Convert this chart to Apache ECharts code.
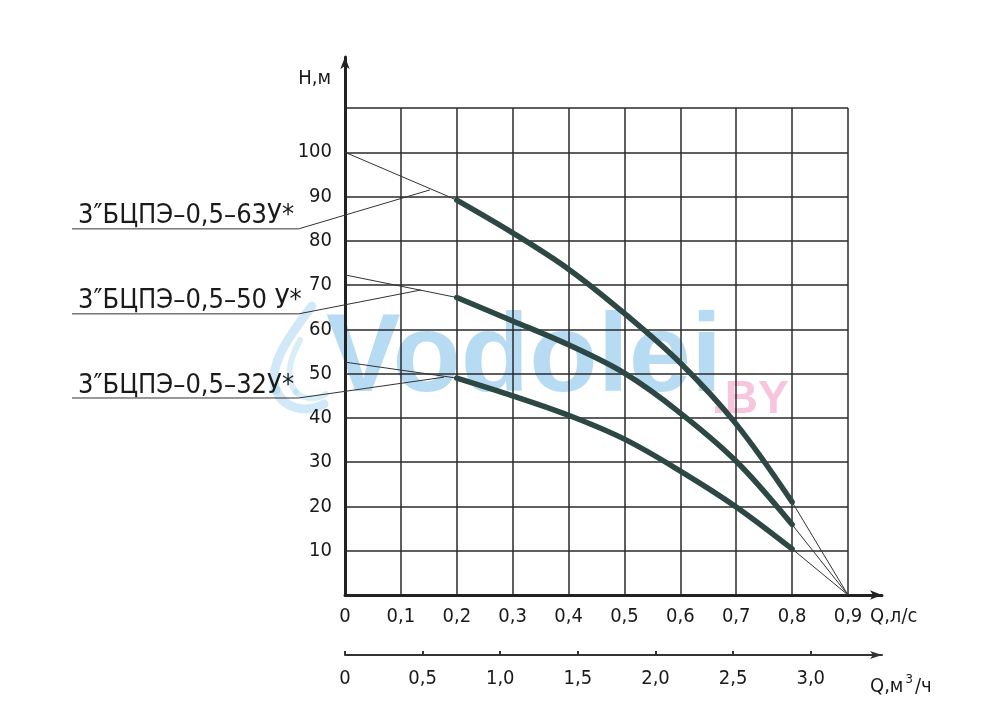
<!DOCTYPE html>
<html>
<head>
<meta charset="utf-8">
<script src="https://cdn.jsdelivr.net/npm/echarts@6/dist/echarts.min.js"></script>
<style>
html,body{margin:0;padding:0;background:#fff;}
#chart{width:1000px;height:727px;}
</style>
</head>
<body>
<div id="chart"></div>
<script>
// ---- data ----
const qPoints = [0.2, 0.3, 0.4, 0.5, 0.6, 0.7, 0.8];          // Q, l/s
const h63 = [89.2, 81.8, 73.6, 63.6, 52.4, 38.6, 21.0];       // H, m
const h50 = [67.2, 61.9, 56.5, 50.1, 41.1, 30.2, 15.9];
const h32 = [49.0, 45.0, 40.6, 35.2, 28.0, 19.9, 10.4];
const shutoffH = [100, 72.3, 52.6];      // H at Q = 0
const zeroHeadQ = 0.9;                   // all curves end at Q = 0.9, H = 0
const pumpNames = ['3″БЦПЭ–0,5–63У*', '3″БЦПЭ–0,5–50 У*', '3″БЦПЭ–0,5–32У*'];
const leaderTip = [[0.152, 91.5], [0.136, 68.9], [0.177, 49.2]];
const leaderH = [82.7, 63.5, 44.5];
const leaderQStart = -0.4885, leaderQEnd = -0.083;
const qLsTicks = [0, 0.1, 0.2, 0.3, 0.4, 0.5, 0.6, 0.7, 0.8, 0.9];
const qM3Ticks = [0, 0.5, 1.0, 1.5, 2.0, 2.5, 3.0];
const hTicks = [10, 20, 30, 40, 50, 60, 70, 80, 90, 100];

const curves = [h63, h50, h32];
const fmtComma = v => (v === 0 ? '0' : v.toFixed(1).replace('.', ','));

const FONT = "'DejaVu Sans Condensed', 'Liberation Sans Narrow', sans-serif";
const gridColor = '#2a2a2a';
const curveColor = '#2c4744';

// grid geometry (pixels)
const G = { left: 345, right: 152, top: 108, bottom: 132 };
const plotW = 1000 - G.left - G.right;
const annMinQ = -0.6;                                     // annotation grid shares the Q scale
const annLeft = G.left + annMinQ * plotW / 0.9;

const series = [];
curves.forEach((h, i) => {
  series.push({
    type: 'line', xAxisIndex: 0, yAxisIndex: 0, symbol: 'none', silent: true,
    lineStyle: { color: '#333', width: 1 },
    data: [[0, shutoffH[i]], [qPoints[0], h[0]]]
  });
  series.push({
    type: 'line', xAxisIndex: 0, yAxisIndex: 0, symbol: 'none', silent: true,
    lineStyle: { color: '#333', width: 1 },
    data: [[qPoints[qPoints.length - 1], h[h.length - 1]], [zeroHeadQ, 0]]
  });
  series.push({
    type: 'line', xAxisIndex: 0, yAxisIndex: 0, symbol: 'none', silent: true,
    smooth: 0.35,
    lineStyle: { color: curveColor, width: 5.5, cap: 'round' },
    data: qPoints.map((q, k) => [q, h[k]]), z: 5
  });
  series.push({
    type: 'line', xAxisIndex: 3, yAxisIndex: 3, silent: true,
    symbol: 'circle', symbolSize: 0, showSymbol: true,
    itemStyle: { color: 'rgba(0,0,0,0)' },
    lineStyle: { color: '#333', width: 1 },
    label: { show: false },
    data: [
      { value: [leaderQStart, leaderH[i]],
        label: { show: true, position: 'top', align: 'left', distance: -1, offset: [6, 0],
                 formatter: pumpNames[i], fontFamily: FONT, fontSize: 27, color: '#1a1a1a' } },
      [leaderQEnd, leaderH[i]],
      leaderTip[i]
    ]
  });
});

const dropStroke = (x1, y1, cpx1, cpy1, cpx2, cpy2, x2, y2, w, a) => ({
  type: 'bezierCurve', z: -2, silent: true,
  shape: { x1, y1, cpx1, cpy1, cpx2, cpy2, x2, y2 },
  style: { fill: null, stroke: 'rgba(150,205,238,' + a + ')', lineWidth: w, lineCap: 'round' }
});

const option = {
  animation: false,
  backgroundColor: '#fff',
  graphic: [
    dropStroke(312, 306, 286, 340, 268, 366, 276, 390, 9, 0.45),
    dropStroke(276, 390, 283, 408, 305, 414, 324, 404, 9, 0.45),
    dropStroke(300, 340, 288, 362, 286, 380, 296, 392, 6, 0.35),
    dropStroke(296, 392, 304, 400, 316, 400, 326, 394, 6, 0.35),
    { type: 'text', left: 326, top: 304, z: -1, silent: true,
      style: { text: 'Vodolei', fontFamily: 'Liberation Sans', fontWeight: 'bold', fontSize: 112,
               fill: 'rgba(135,195,235,0.6)' } },
    { type: 'text', left: 712, top: 377, z: -1, silent: true,
      style: { text: '.BY', fontFamily: 'Liberation Sans', fontWeight: 'bold', fontSize: 46,
               fill: 'rgba(240,150,195,0.55)' } }
  ],
  grid: [
    { left: G.left, right: G.right, top: G.top, bottom: G.bottom },
    { left: 345, right: 118, top: 57, bottom: 132 },
    { left: 345, right: 118, top: 640, bottom: 72 },
    { left: annLeft, right: G.right, top: G.top, bottom: G.bottom }
  ],
  xAxis: [
    { type: 'value', gridIndex: 0, min: 0, max: 0.9, interval: 0.1,
      axisLine: { show: false }, axisTick: { show: false },
      splitLine: { show: true, lineStyle: { color: gridColor, width: 1.5 } },
      axisLabel: { margin: 12, fontFamily: FONT, fontSize: 20, color: '#1a1a1a',
                   customValues: qLsTicks, formatter: fmtComma },
      name: 'Q,л/с', nameLocation: 'end', nameGap: 22,
      nameTextStyle: { fontFamily: FONT, fontSize: 20, color: '#1a1a1a', verticalAlign: 'top',
                       padding: [12, 0, 0, 0] } },
    { type: 'value', gridIndex: 1, min: 0, max: 1,
      axisLine: { show: true, symbol: ['none', 'arrow'], symbolSize: [7, 12],
                  lineStyle: { color: '#222', width: 3 } },
      axisTick: { show: false }, axisLabel: { show: false }, splitLine: { show: false } },
    { type: 'value', gridIndex: 2, min: 0, max: 3.459,
      axisLine: { show: true, symbol: ['none', 'arrow'], symbolSize: [6, 12],
                  lineStyle: { color: '#333', width: 2 } },
      axisTick: { show: true, inside: true, length: 4, customValues: qM3Ticks,
                  lineStyle: { color: '#333', width: 2 } },
      splitLine: { show: false },
      axisLabel: { margin: 14, fontFamily: FONT, fontSize: 20, color: '#1a1a1a',
                   customValues: qM3Ticks, formatter: fmtComma },
      name: 'Q,м{sup|3}/ч', nameLocation: 'end', nameGap: -12,
      nameTextStyle: { fontFamily: FONT, fontSize: 20, color: '#1a1a1a', verticalAlign: 'top',
                       padding: [18, 0, 0, 0],
                       rich: { sup: { fontFamily: FONT, fontSize: 13, color: '#1a1a1a', verticalAlign: 'top', padding: [0, 2, 14, 2] } } } },
    { type: 'value', gridIndex: 3, min: annMinQ, max: 0.9, show: false }
  ],
  yAxis: [
    { type: 'value', gridIndex: 0, min: 0, max: 110, interval: 10,
      axisLine: { show: false }, axisTick: { show: false },
      splitLine: { show: true, lineStyle: { color: gridColor, width: 1.5 } },
      axisLabel: { margin: 13, fontFamily: FONT, fontSize: 20, color: '#1a1a1a',
                   customValues: hTicks } },
    { type: 'value', gridIndex: 1, min: 0, max: 1,
      axisLine: { show: true, symbol: ['none', 'arrow'], symbolSize: [7, 12],
                  lineStyle: { color: '#222', width: 3 } },
      axisTick: { show: false }, axisLabel: { show: false }, splitLine: { show: false },
      name: 'Н,м', nameLocation: 'end', nameGap: -12,
      nameTextStyle: { fontFamily: FONT, fontSize: 20, color: '#1a1a1a', align: 'right',
                       verticalAlign: 'top', padding: [0, 14, 0, 0] } },
    { type: 'value', gridIndex: 2, min: 0, max: 1, show: false },
    { type: 'value', gridIndex: 3, min: 0, max: 110, show: false }
  ],
  series: series
};

const chart = echarts.init(document.getElementById('chart'), null, { renderer: 'canvas' });
chart.setOption(option);
</script>
</body>
</html>
